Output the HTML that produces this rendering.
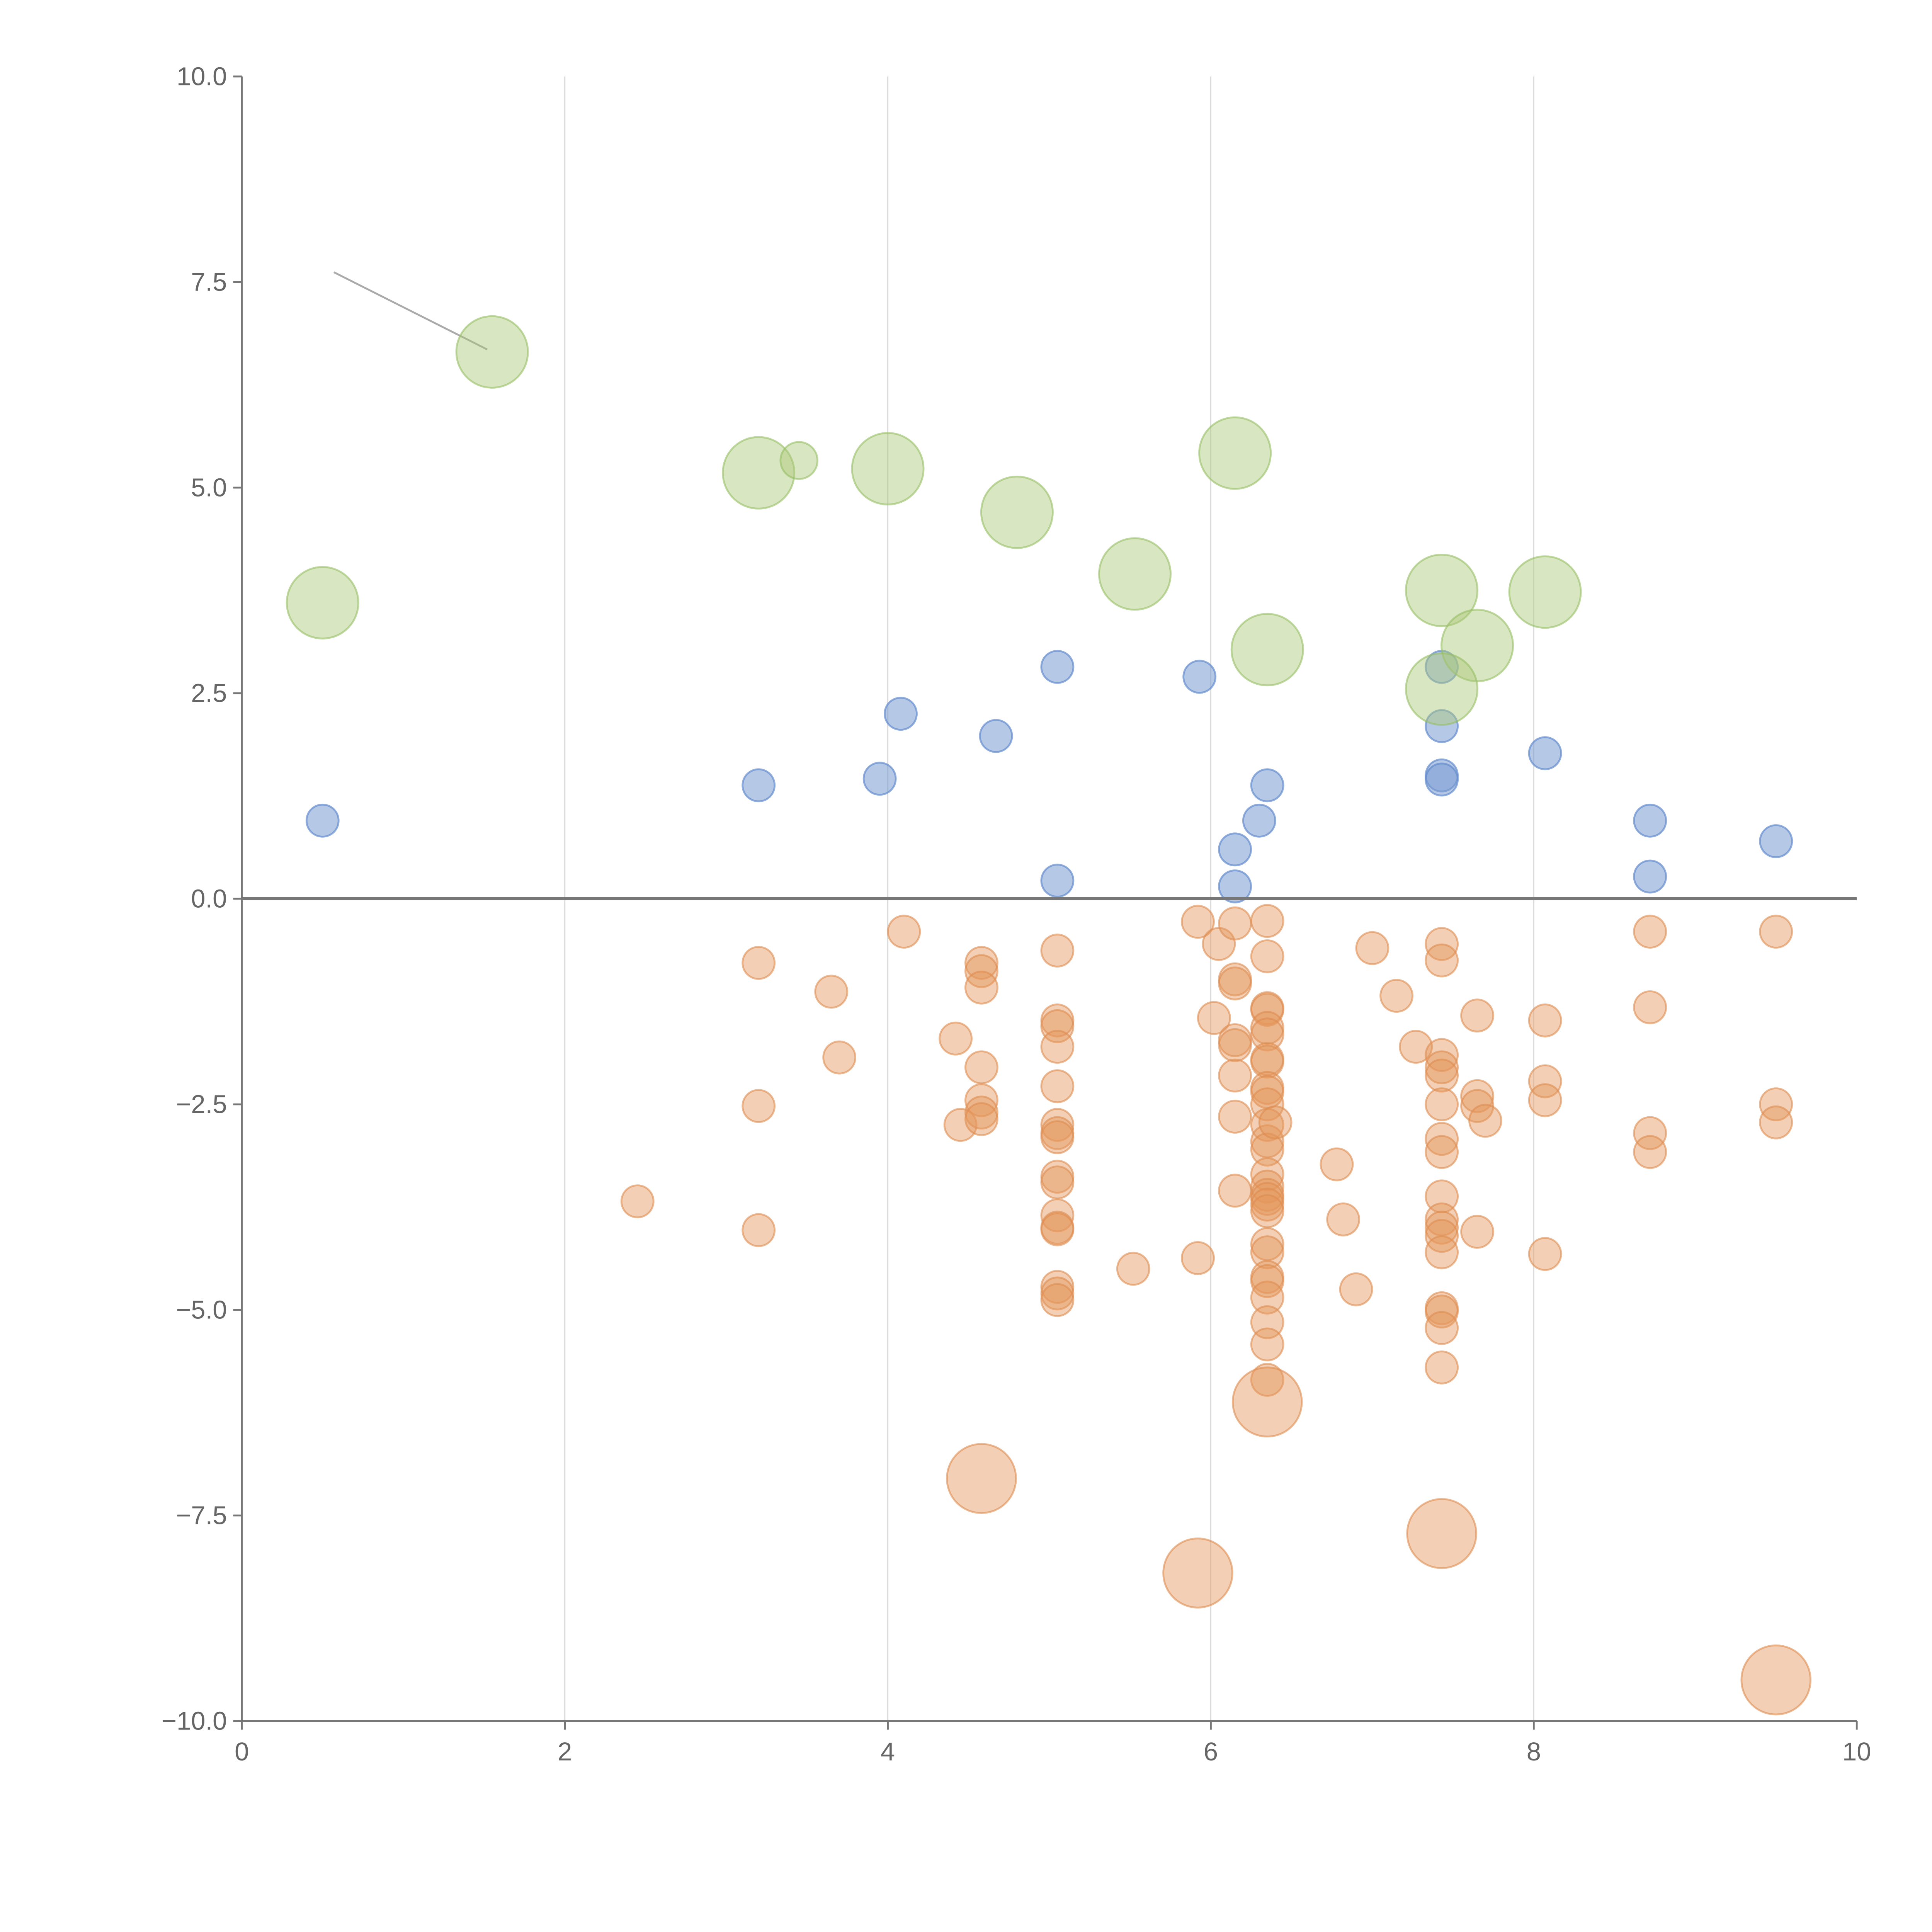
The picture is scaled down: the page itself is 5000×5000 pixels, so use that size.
<!DOCTYPE html>
<html><head><meta charset="utf-8"><style>html,body{margin:0;padding:0;background:#fff}svg{display:block}</style></head>
<body>
<svg id="chart" width="5000" height="5000" viewBox="0 0 1566 1566" xmlns="http://www.w3.org/2000/svg" font-family="Liberation Sans, sans-serif">
<g id="grid"></g>
<g id="marks"></g>
<g id="axes"></g>
</svg>
<script>
const xTicks=[0,2,4,6,8,10];
const yTicks=[-10,-7.5,-5,-2.5,0,2.5,5,7.5,10];
const greenX=[0.5,1.55,3.2,3.45,4.0,4.8,5.53,6.15,6.35,7.43,7.65,8.07,7.43];
const greenY=[3.6,6.65,5.18,5.33,5.23,4.7,3.95,5.42,3.03,3.75,3.08,3.73,2.55];
const greenSize=[2,2,2,1,2,2,2,2,2,2,2,2,2];
const blueX=[0.5,3.2,3.95,4.08,4.67,5.05,5.05,5.93,6.15,6.15,6.3,6.35,7.43,7.43,7.43,7.43,8.07,8.72,8.72,9.5];
const blueY=[0.95,1.38,1.46,2.25,1.98,2.82,0.22,2.7,0.6,0.15,0.95,1.38,2.82,2.1,1.5,1.45,1.77,0.95,0.27,0.7];
const orangeX=[2.45,3.2,3.2,3.2,3.65,3.7,4.1,4.42,4.45,
4.58,4.58,4.58,4.58,4.58,4.58,4.58,4.58,
5.05,5.05,5.05,5.05,5.05,5.05,5.05,5.05,5.05,5.05,5.05,5.05,5.05,5.05,5.05,5.05,
5.52,5.92,5.92,5.92,6.02,6.05,
6.15,6.15,6.15,6.15,6.15,6.15,6.15,6.15,
6.35,6.35,6.35,6.35,6.35,6.35,6.35,6.35,6.35,6.35,6.35,6.35,6.35,6.35,6.35,6.35,6.35,6.35,6.35,6.35,6.35,6.35,6.35,6.35,6.35,6.35,6.35,6.35,6.35,
6.4,6.78,6.82,6.9,7.0,7.15,7.27,
7.43,7.43,7.43,7.43,7.43,7.43,7.43,7.43,7.43,7.43,7.43,7.43,7.43,7.43,7.43,7.43,7.43,7.43,
7.65,7.65,7.65,7.65,7.7,
8.07,8.07,8.07,8.07,
8.72,8.72,8.72,8.72,
9.5,9.5,9.5,9.5];
const orangeY=[-3.68,-0.78,-2.52,-4.03,-1.13,-1.93,-0.4,-1.7,-2.75,
-0.78,-0.88,-1.08,-2.05,-2.45,-2.6,-2.68,-7.05,
-0.63,-1.48,-1.55,-1.8,-2.28,-2.75,-2.85,-2.9,-3.38,-3.45,-3.85,-4.0,-4.02,-4.72,-4.8,-4.88,
-4.5,-0.28,-4.37,-8.2,-1.45,-0.55,
-0.3,-0.98,-1.03,-1.72,-1.78,-2.15,-2.65,-3.55,
-0.27,-0.7,-1.33,-1.35,-1.57,-1.65,-1.95,-1.98,-2.3,-2.35,-2.5,-2.75,-2.95,-3.05,-3.35,-3.5,-3.6,-3.65,-3.72,-3.8,-4.2,-4.3,-4.6,-4.65,-4.85,-5.15,-5.42,-5.85,-6.12,
-2.72,-3.23,-3.9,-4.75,-0.6,-1.18,-1.8,
-0.55,-0.75,-1.9,-2.05,-2.15,-2.5,-2.92,-3.08,-3.62,-3.9,-4.0,-4.1,-4.3,-4.98,-5.02,-5.22,-5.7,-7.72,
-1.42,-2.4,-2.52,-4.05,-2.7,
-1.48,-2.22,-2.45,-4.32,
-0.4,-1.32,-2.85,-3.08,
-0.4,-2.5,-2.72,-9.5];
const orangeBig=[-7.05,-8.2,-6.12,-7.72,-9.5];

const NS="http://www.w3.org/2000/svg";
const X0=196,X1=1505,Y0=1395,Y1=62;
const sx=v=>X0+(v-0)/(10-0)*(X1-X0);
const sy=v=>Y0-(v+10)/20*(Y0-Y1);
function mk(tag,attrs,parent){const e=document.createElementNS(NS,tag);for(const k in attrs)e.setAttribute(k,attrs[k]);parent.appendChild(e);return e;}
const grid=document.getElementById('grid'),marks=document.getElementById('marks'),axes=document.getElementById('axes');
xTicks.forEach(t=>{if(t>0&&t<10){const l=mk('line',{x1:sx(t),x2:sx(t),y1:Y1,y2:Y0,stroke:'#dcdcdc','stroke-width':1},grid);

}});
const ann=mk('line',{x1:sx(0.57),y1:sy(7.62),x2:sx(1.52),y2:sy(6.68),stroke:'#aaa','stroke-width':1.5},marks);


function dot(x,y,r,fill,stroke,name){const c=mk('circle',{cx:sx(x),cy:sy(y),r:r,fill:fill,stroke:stroke,'stroke-width':1.5},marks);

}
orangeX.forEach((x,i)=>{const big=orangeBig.includes(orangeY[i]);dot(x,orangeY[i],big?28:13,'rgba(229,150,90,0.45)','rgba(222,140,80,0.6)','orange-point');});
blueX.forEach((x,i)=>dot(x,blueY[i],13,'rgba(120,155,210,0.55)','rgba(100,140,205,0.7)','blue-point'));
greenX.forEach((x,i)=>dot(x,greenY[i],greenSize[i]==2?29:15,'rgba(170,200,120,0.45)','rgba(150,190,100,0.6)','green-point'));
const zl=mk('line',{x1:X0,x2:X1,y1:sy(0),y2:sy(0),stroke:'#777','stroke-width':2.5},axes);


const ya=mk('line',{x1:X0,x2:X0,y1:Y1,y2:Y0,stroke:'#777','stroke-width':1.5},axes);


const xa=mk('line',{x1:X0,x2:X1,y1:Y0,y2:Y0,stroke:'#777','stroke-width':1.5},axes);


xTicks.forEach(t=>{mk('line',{x1:sx(t),x2:sx(t),y1:Y0,y2:Y0+7,stroke:'#777','stroke-width':1.5},axes);
const tx=mk('text',{x:sx(t),y:Y0+32,'text-anchor':'middle','font-size':21,fill:'#666'},axes);tx.textContent=t;

});
yTicks.forEach(t=>{mk('line',{x1:X0-7,x2:X0,y1:sy(t),y2:sy(t),stroke:'#777','stroke-width':1.5},axes);
const tx=mk('text',{x:X0-12,y:sy(t)+7,'text-anchor':'end','font-size':21,fill:'#666'},axes);tx.textContent=(t<0?'\u2212':'')+Math.abs(t).toFixed(1);

});
</script>
</body></html>
